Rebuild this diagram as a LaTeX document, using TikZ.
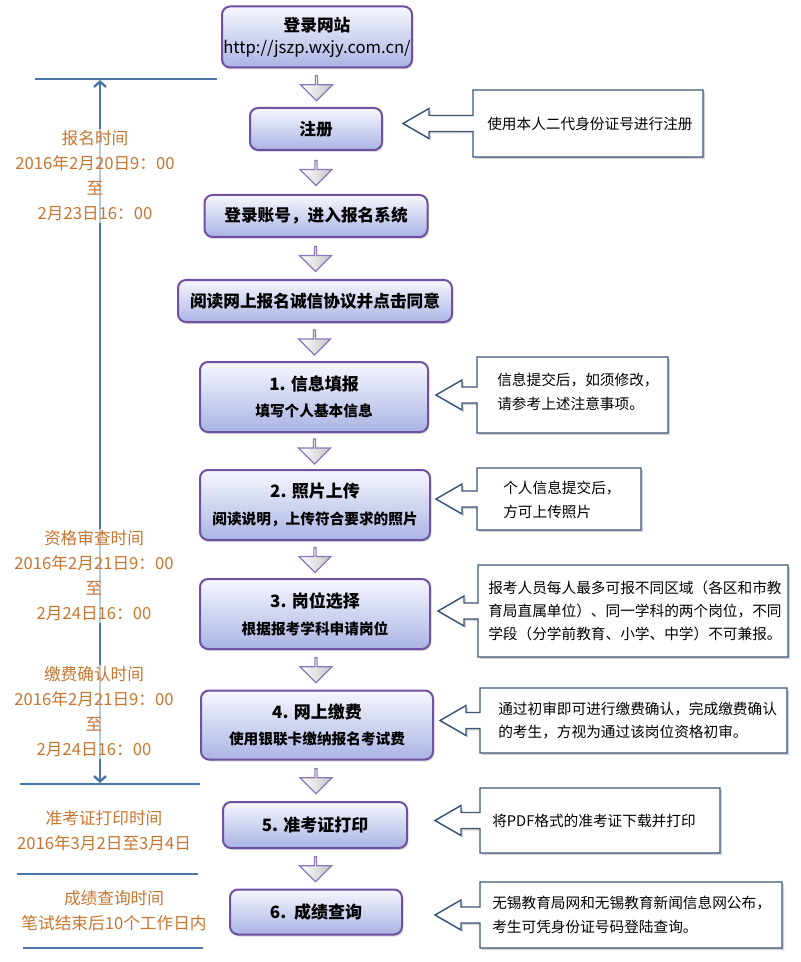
\documentclass[tikz,border=0pt]{standalone}
\usepackage{fontspec}
\setmainfont{Noto Sans CJK SC}
\usetikzlibrary{shapes.arrows,shadows,calc,arrows.meta}
\definecolor{boxborder}{RGB}{112,80,160}
\definecolor{boxtop}{RGB}{246,247,253}
\definecolor{boxbot}{RGB}{170,180,228}
\definecolor{callborder}{RGB}{60,86,120}
\definecolor{lineblue}{RGB}{74,118,172}
\definecolor{timeorange}{RGB}{198,118,48}
\definecolor{arrowborder}{RGB}{140,118,190}
\newcommand\pxu{0.75pt}
\newcommand\callarrow[2]{%
  \draw[calloutline] (#1.north west) -- (#1.north east) -- (#1.south east) -- (#1.south west)
    -- ($(#1.west)+(0,8)$) -- ($(#1.west)+(-#2+26,8)$) -- ($(#1.west)+(-#2+26,15)$)
    -- ($(#1.west)+(-#2,0)$)
    -- ($(#1.west)+(-#2+26,-15)$) -- ($(#1.west)+(-#2+26,-8)$) -- ($(#1.west)+(0,-8)$) -- cycle;}
\begin{document}
\begin{tikzpicture}[x=0.75pt,y=-0.75pt,
  mainbox/.style={rounded corners=6pt, draw=boxborder, line width=1.5pt,
    top color=boxtop, bottom color=boxbot, align=center, inner sep=0pt,
    font=\bfseries\fontsize{12.5pt}{16.5pt}\selectfont,
    drop shadow={opacity=0.3, shadow xshift=1pt, shadow yshift=-1.5pt}},
  twoline/.style={font=\bfseries\fontsize{12.75pt}{20pt}\selectfont},
  downarrow/.style={single arrow, rotate=-90, minimum height=25*\pxu, minimum width=32*\pxu,
    single arrow head extend=8*\pxu, inner sep=0pt, draw=arrowborder, line width=0.9pt,
    left color=white, right color=gray!45},
  callframe/.style={inner sep=0pt, outer sep=0pt},
  calloutline/.style={draw=callborder, line width=1.1pt, fill=white,
    drop shadow={opacity=0.35, shadow xshift=1.5pt, shadow yshift=-1.5pt}},
  calltext/.style={anchor=west, align=left, inner sep=0pt, font=\fontsize{11pt}{17.5pt}\selectfont},
  hline/.style={draw=lineblue, line width=1.8pt},
  timetext/.style={text=timeorange, align=center, inner sep=1pt,
    font=\fontsize{12.5pt}{18.75pt}\selectfont, fill=white, fill opacity=0.6, text opacity=1}
]
\useasboundingbox (0,0) rectangle (800,962);

% left timeline
\coordinate (h1l) at (35,79);  \coordinate (h1r) at (217,79);
\coordinate (h2l) at (20,784); \coordinate (h2r) at (200,784);
\coordinate (h3l) at (17,874); \coordinate (h3r) at (198,874);
\coordinate (h4l) at (23,948); \coordinate (h4r) at (203,948);
\coordinate (vtop) at (100,80); \coordinate (vbot) at (100,783);
\draw[hline] (h1l) -- (h1r);
\draw[hline] (h2l) -- (h2r);
\draw[hline] (h3l) -- (h3r);
\draw[hline] (h4l) -- (h4r);
\draw[hline, {Straight Barb[length=4pt,width=9pt]}-{Straight Barb[length=4pt,width=9pt]}] (vtop) -- (vbot);

\node[timetext] (t1) at (95,176) {报名时间\\2016年2月20日9：00\\至\\2月23日16：00};
\node[timetext] (t2) at (94,576) {资格审查时间\\2016年2月21日9：00\\至\\2月24日16：00};
\node[timetext] (t3) at (94,712) {缴费确认时间\\2016年2月21日9：00\\至\\2月24日16：00};
\node[timetext] (t4) at (104,831) {准考证打印时间\\2016年3月2日至3月4日};
\node[timetext] (t5) at (114,911) {成绩查询时间\\笔试结束后10个工作日内};

% main boxes
\node[mainbox, minimum width=190*\pxu, minimum height=61*\pxu] (b0) at (317,37)
  {登录网站\\{\mdseries http://jszp.wxjy.com.cn/}};
\node[mainbox, minimum width=132*\pxu, minimum height=42*\pxu] (b1) at (316,129) {注册};
\node[mainbox, minimum width=223*\pxu, minimum height=42*\pxu] (b2) at (316,216) {登录账号，进入报名系统};
\node[mainbox, minimum width=274*\pxu, minimum height=42*\pxu] (b3) at (315,301) {阅读网上报名诚信协议并点击同意};
\node[mainbox, twoline, minimum width=228*\pxu, minimum height=70*\pxu] (b4) at (314,397)
  {1. 信息填报\\{\fontsize{11pt}{20pt}\selectfont 填写个人基本信息}};
\node[mainbox, twoline, minimum width=230*\pxu, minimum height=70*\pxu] (b5) at (315,505)
  {2. 照片上传\\{\fontsize{11pt}{20pt}\selectfont 阅读说明，上传符合要求的照片}};
\node[mainbox, twoline, minimum width=230*\pxu, minimum height=70*\pxu] (b6) at (315,614)
  {3. 岗位选择\\{\fontsize{11pt}{20pt}\selectfont 根据报考学科申请岗位}};
\node[mainbox, twoline, minimum width=232*\pxu, minimum height=69*\pxu] (b7) at (317,725)
  {4. 网上缴费\\{\fontsize{11pt}{20pt}\selectfont 使用银联卡缴纳报名考试费}};
\node[mainbox, minimum width=184*\pxu, minimum height=46*\pxu, font=\bfseries\fontsize{12.75pt}{16pt}\selectfont] (b8) at (315,825) {5. 准考证打印};
\node[mainbox, minimum width=172*\pxu, minimum height=45*\pxu, font=\bfseries\fontsize{12.75pt}{16pt}\selectfont] (b9) at (316,912) {6.\ \ 成绩查询};

% down arrows between boxes
\node[downarrow] (d1) at ($(b0.south)!0.5!(b1.north)$) {};
\node[downarrow] (d2) at ($(b1.south)!0.5!(b2.north)$) {};
\node[downarrow] (d3) at ($(b2.south)!0.5!(b3.north)$) {};
\node[downarrow] (d4) at ($(b3.south)!0.5!(b4.north)$) {};
\node[downarrow] (d5) at ($(b4.south)!0.5!(b5.north)$) {};
\node[downarrow] (d6) at ($(b5.south)!0.5!(b6.north)$) {};
\node[downarrow] (d7) at ($(b6.south)!0.5!(b7.north)$) {};
\node[downarrow] (d8) at ($(b7.south)!0.5!(b8.north)$) {};
\node[downarrow] (d9) at ($(b8.south)!0.5!(b9.north)$) {};

% callouts
\node[callframe, minimum width=230*\pxu, minimum height=67*\pxu] (c1) at (588,123.5) {};
\node[callframe, minimum width=191*\pxu, minimum height=76*\pxu] (c2) at (572.5,395) {};
\node[callframe, minimum width=164*\pxu, minimum height=62*\pxu] (c3) at (559,499) {};
\node[callframe, minimum width=310*\pxu, minimum height=92*\pxu] (c4) at (633,611) {};
\node[callframe, minimum width=307*\pxu, minimum height=65*\pxu] (c5) at (633.5,720.5) {};
\node[callframe, minimum width=240*\pxu, minimum height=65*\pxu] (c6) at (600,820.5) {};
\node[callframe, minimum width=302*\pxu, minimum height=66*\pxu] (c7) at (631,915) {};
\callarrow{c1}{70}
\callarrow{c2}{41}
\callarrow{c3}{41}
\callarrow{c4}{40}
\callarrow{c5}{40}
\callarrow{c6}{45}
\callarrow{c7}{45}

\node[calltext] (s1) at ($(c1.west)+(14,0)$) {使用本人二代身份证号进行注册};
\node[calltext] (s2) at ($(c2.west)+(20,-3)$) {信息提交后，如须修改，\\请参考上述注意事项。};
\node[calltext] (s3) at ($(c3.west)+(26,1)$) {个人信息提交后，\\方可上传照片};
\node[calltext] (s4) at ($(c4.west)+(10,0)$) {报考人员每人最多可报不同区域（各区和市教\\育局直属单位）、同一学科的两个岗位，不同\\学段（分学前教育、小学、中学）不可兼报。};
\node[calltext] (s5) at ($(c5.west)+(18,0)$) {通过初审即可进行缴费确认，完成缴费确认\\的考生，方视为通过该岗位资格初审。};
\node[calltext] (s6) at ($(c6.west)+(12,0)$) {将PDF格式的准考证下载并打印};
\node[calltext] (s7) at ($(c7.west)+(12,0)$) {无锡教育局网和无锡教育新闻信息网公布，\\考生可凭身份证号码登陆查询。};
\end{tikzpicture}
\end{document}
